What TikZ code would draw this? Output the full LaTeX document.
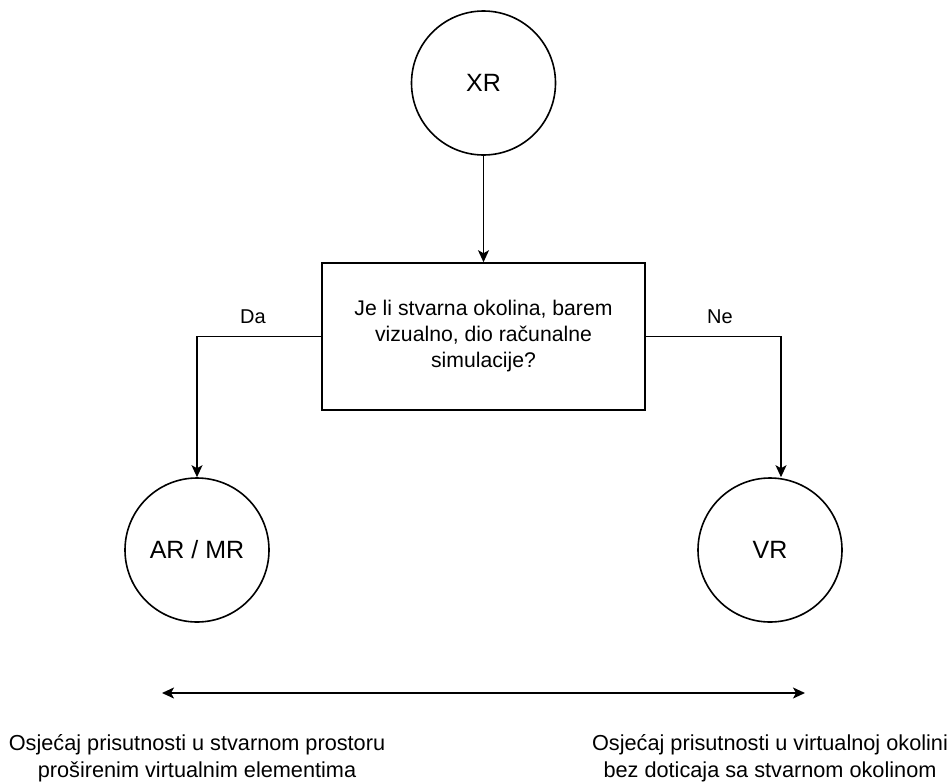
\documentclass[tikz,border=0pt]{standalone}
\usepackage{fontspec}
\setmainfont{Liberation Sans}
\usetikzlibrary{arrows.meta,positioning,calc}
\tikzset{
  circ/.style={draw,circle,line width=1.6pt,minimum size=144pt,inner sep=0pt,font=\fontsize{25}{30}\selectfont},
  decision/.style={draw,rectangle,line width=1.6pt,minimum width=323pt,minimum height=147pt,align=center,font=\fontsize{21.2}{26}\selectfont},
  conn/.style={line width=1.6pt,-{Stealth[length=12pt,width=11pt,inset=3pt]}},
  lbl/.style={font=\fontsize{20}{24}\selectfont},
  note/.style={align=center,font=\fontsize{21.7}{26.5}\selectfont}
}

\begin{document}
\begin{tikzpicture}[x=1pt,y=-1pt]
  \useasboundingbox (0,0) rectangle (950,782);

  % Top node and question
  \node[circ] (xr) at (483.5,83) {XR};
  \node[decision] (q) at (483.5,336.5) {Je li stvarna okolina, barem\\vizualno, dio računalne\\simulacije?};

  % Outcomes
  \node[circ] (ar) at (197,550) {AR / MR};
  \node[circ] (vr) at (770,550) {VR};

  % Connectors
  \draw[conn] (xr.south) -- (q.north);
  \draw[conn] (q.west) -| (ar.north);
  \draw[conn] (q.east) -| ([xshift=11pt]vr.north);
  \node[lbl] (da) at (253,317) {Da};
  \node[lbl] (ne) at (720,317) {Ne};

  % Scale of presence
  \coordinate (lend) at (162,693);
  \coordinate (rend) at (805,693);
  \draw[line width=1.6pt,{Stealth[length=12pt,width=11pt,inset=3pt]}-{Stealth[length=12pt,width=11pt,inset=3pt]}] (lend) -- (rend);

  \node[note] (lnote) at (197,758) {Osjećaj prisutnosti u stvarnom prostoru\\proširenim virtualnim elementima};
  \node[note] (rnote) at (770,758) {Osjećaj prisutnosti u virtualnoj okolini\\bez doticaja sa stvarnom okolinom};
\end{tikzpicture}
\end{document}
